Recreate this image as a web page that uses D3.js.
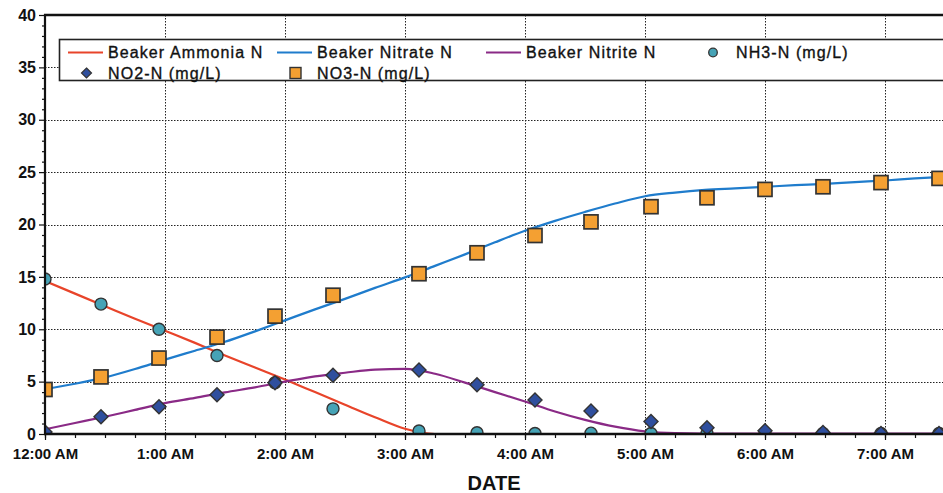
<!DOCTYPE html>
<html>
<head>
<meta charset="utf-8">
<script src="https://cdn.jsdelivr.net/npm/d3@7/dist/d3.min.js"></script>
<style>
  html, body { margin: 0; padding: 0; background: #fff; }
  svg { display: block; }
  text { font-family: "Liberation Sans", Arial, sans-serif; fill: #111; }
</style>
</head>
<body>
<script>
// Measured samples (mg/L) at each sampling time
const sampleTimes = ["00:00", "00:28", "00:57", "01:26", "01:55", "02:24", "03:07", "03:36",
                     "04:05", "04:33", "05:03", "05:31", "06:00", "06:29", "06:58", "07:27"];
const nh3 = [14.8, 12.4, 10.0, 7.5, 4.9, 2.4, 0.28, 0.12, 0.05, 0.08, 0.05, 0.05, 0.05, 0.05, 0.05, 0.05];
const no2 = [0.2, 1.65, 2.6, 3.75, 4.9, 5.6, 6.1, 4.7, 3.25, 2.2, 1.2, 0.6, 0.3, 0.15, 0.05, 0.05];
const no3 = [4.25, 5.45, 7.25, 9.25, 11.25, 13.25, 15.3, 17.3, 18.95, 20.25, 21.7, 22.55, 23.35, 23.6, 24.0, 24.4];

// Beaker model output, every 15 minutes
const modelTimes = ["00:00", "00:15", "00:30", "00:45", "01:00", "01:15", "01:30", "01:45",
                    "02:00", "02:15", "02:30", "02:45", "03:00", "03:15", "03:30", "03:45",
                    "04:00", "04:15", "04:30", "04:45", "05:00", "05:15", "05:30", "05:45",
                    "06:00", "06:15", "06:30", "06:45", "07:00", "07:15", "07:30"];
const beakerAmmonia = [14.6, 13.4, 12.2, 11.0, 9.85, 8.7, 7.5, 6.35, 5.2, 4.0, 2.8, 1.6, 0.5, 0.0, 0, 0,
                       0, 0, 0, 0, 0, 0, 0, 0, 0, 0, 0, 0, 0, 0, 0];
const beakerNitrate = [4.3, 4.8, 5.4, 6.2, 7.1, 7.95, 8.8, 9.8, 10.85, 11.9, 12.9, 13.95, 14.95, 16.05,
                       17.15, 18.3, 19.4, 20.35, 21.2, 22.0, 22.7, 23.05, 23.3, 23.45, 23.6, 23.75,
                       23.88, 24.05, 24.2, 24.4, 24.56];
const beakerNitrite = [0.45, 1.05, 1.65, 2.3, 2.95, 3.45, 3.98, 4.45, 5.0, 5.5, 5.85, 6.15, 6.22, 5.75,
                       4.9, 4.0, 3.1, 2.15, 1.35, 0.7, 0.25, 0.08, 0.05, 0.05, 0.05, 0.05, 0.05, 0.05,
                       0.05, 0.05, 0.05];

const yTicks = [0, 5, 10, 15, 20, 25, 30, 35, 40];
const legendRow1 = ["Beaker Ammonia N", "Beaker Nitrate N", "Beaker Nitrite N", "NH3-N (mg/L)"];
const legendRow2 = ["NO2-N (mg/L)", "NO3-N (mg/L)"];
const xTitle = "DATE";

const W = 943, H = 493;
const plotLeft = 45, plotTop = 15, plotBottom = 434, plotRight = 943;

const parse = d3.timeParse("%H:%M");
const x = d3.scaleTime().domain([parse("00:00"), parse("07:29")]).range([plotLeft, plotRight]);
const y = d3.scaleLinear().domain([0, 40]).range([plotBottom, plotTop]);

const colors = {
  ammonia: "#e8442a", nitrate: "#1f7ccc", nitrite: "#8a2a86",
  nh3: "#46a3b6", no2: "#2f4f9e", no3: "#f4a032", edge: "#333"
};

const svg = d3.select("body").append("svg").attr("width", W).attr("height", H);

svg.append("defs").append("clipPath").attr("id", "plot-clip")
  .append("rect").attr("x", plotLeft).attr("y", plotTop)
  .attr("width", plotRight - plotLeft).attr("height", plotBottom - plotTop);

// Dotted grid
const grid = svg.append("g").attr("stroke", "#222").attr("stroke-width", 1).attr("stroke-dasharray", "1.5,1.5");
grid.selectAll("line.h").data(yTicks.filter(v => v > 0 && v < 40)).join("line")
  .attr("x1", plotLeft).attr("x2", plotRight)
  .attr("y1", d => Math.round(y(d)) + 0.5).attr("y2", d => Math.round(y(d)) + 0.5);
grid.selectAll("line.v").data(x.ticks(d3.timeHour.every(1)).filter(d => d.getHours() > 0)).join("line")
  .attr("y1", plotTop).attr("y2", plotBottom)
  .attr("x1", d => Math.round(x(d)) + 0.5).attr("x2", d => Math.round(x(d)) + 0.5);

// Model curves
const plot = svg.append("g").attr("clip-path", "url(#plot-clip)");
const modelDates = modelTimes.map(parse);
const line = d3.line().x(d => x(d[0])).y(d => y(d[1])).curve(d3.curveMonotoneX);
[[beakerAmmonia, colors.ammonia], [beakerNitrite, colors.nitrite], [beakerNitrate, colors.nitrate]]
  .forEach(([vals, c]) => {
    plot.append("path").datum(modelDates.map((t, i) => [t, vals[i]]))
      .attr("fill", "none").attr("stroke", c).attr("stroke-width", 2.2).attr("d", line);
  });

// Measured markers
const sampleDates = sampleTimes.map(parse);
const diamond = s => `M0,${-s}L${s},0L0,${s}L${-s},0Z`;

plot.selectAll("circle.nh3").data(nh3).join("circle")
  .attr("cx", (d, i) => x(sampleDates[i])).attr("cy", d => y(d)).attr("r", 6)
  .attr("fill", colors.nh3).attr("stroke", colors.edge).attr("stroke-width", 1.4);

plot.selectAll("path.no2").data(no2).join("path")
  .attr("transform", (d, i) => `translate(${x(sampleDates[i])},${y(d)})`)
  .attr("d", diamond(7))
  .attr("fill", colors.no2).attr("stroke", colors.edge).attr("stroke-width", 1.4);

plot.selectAll("rect.no3").data(no3).join("rect")
  .attr("x", (d, i) => x(sampleDates[i]) - 7).attr("y", d => y(d) - 7)
  .attr("width", 14).attr("height", 14)
  .attr("fill", colors.no3).attr("stroke", colors.edge).attr("stroke-width", 1.7);

// Axes
const yAxis = svg.append("g").attr("transform", `translate(${plotLeft},0)`)
  .call(d3.axisLeft(y).tickValues(yTicks).tickSize(6).tickPadding(3));
svg.append("g").attr("transform", `translate(${plotLeft},0)`)
  .call(d3.axisLeft(y).tickValues(d3.range(0, 41, 1).filter(v => v % 5)).tickSize(3).tickFormat(""));

const xAxis = svg.append("g").attr("transform", `translate(0,${plotBottom})`)
  .call(d3.axisBottom(x).ticks(d3.timeHour.every(1)).tickFormat(d3.timeFormat("%-I:%M %p"))
    .tickSize(6).tickPadding(8));
svg.append("g").attr("transform", `translate(0,${plotBottom})`)
  .call(d3.axisBottom(x).ticks(d3.timeMinute.every(15)).tickSize(4).tickFormat(""));

svg.selectAll(".domain").remove();
svg.selectAll(".tick line").attr("stroke", "#111").attr("stroke-width", 1.2);
yAxis.selectAll("text").attr("font-size", 16).attr("font-weight", "bold").attr("fill", "#111");
xAxis.selectAll("text").attr("font-size", 15).attr("font-weight", "bold").attr("fill", "#111");

// Frame: left, bottom and top edges
svg.append("line").attr("x1", plotLeft).attr("x2", plotLeft).attr("y1", plotTop - 1).attr("y2", plotBottom + 1)
  .attr("stroke", "#111").attr("stroke-width", 2.2);
svg.append("line").attr("x1", plotLeft - 1).attr("x2", plotRight).attr("y1", plotBottom).attr("y2", plotBottom)
  .attr("stroke", "#111").attr("stroke-width", 2.4);
svg.append("line").attr("x1", plotLeft - 1).attr("x2", plotRight).attr("y1", plotTop).attr("y2", plotTop)
  .attr("stroke", "#111").attr("stroke-width", 2.6);

svg.append("text").attr("x", (plotLeft + plotRight) / 2).attr("y", 490).attr("text-anchor", "middle")
  .attr("font-size", 20).attr("font-weight", "bold").text(xTitle);

// Legend
const lg = svg.append("g");
lg.append("rect").attr("x", 59.5).attr("y", 39.5).attr("width", 900).attr("height", 41)
  .attr("fill", "#fff").attr("stroke", "#222").attr("stroke-width", 1.6);
const colX = [68, 277, 486, 696];
const row1Y = 52.5, row2Y = 73;
const lineColors = [colors.ammonia, colors.nitrate, colors.nitrite];
const legendText = (g, xPos, yPos, label) => g.append("text")
  .attr("x", xPos).attr("y", yPos).attr("font-size", 16).attr("letter-spacing", 1.1)
  .attr("stroke", "#111").attr("stroke-width", 0.35).text(label);
legendRow1.forEach((label, i) => {
  const cx = colX[i];
  if (i < 3) {
    lg.append("line").attr("x1", cx).attr("x2", cx + 35).attr("y1", row1Y).attr("y2", row1Y)
      .attr("stroke", lineColors[i]).attr("stroke-width", 2.2);
  } else {
    lg.append("circle").attr("cx", cx + 17).attr("cy", row1Y).attr("r", 4.3)
      .attr("fill", colors.nh3).attr("stroke", colors.edge).attr("stroke-width", 1.3);
  }
  legendText(lg, cx + 40, row1Y + 5.8, label);
});
legendRow2.forEach((label, i) => {
  const cx = colX[i];
  if (i === 0) {
    lg.append("path").attr("transform", `translate(${cx + 18.5},${row2Y})`).attr("d", diamond(5))
      .attr("fill", colors.no2).attr("stroke", colors.edge).attr("stroke-width", 1.2);
  } else {
    lg.append("rect").attr("x", cx + 13).attr("y", row2Y - 5.5).attr("width", 11).attr("height", 11)
      .attr("fill", colors.no3).attr("stroke", colors.edge).attr("stroke-width", 1.4);
  }
  legendText(lg, cx + 40, row2Y + 5.8, label);
});
</script>
</body>
</html>
